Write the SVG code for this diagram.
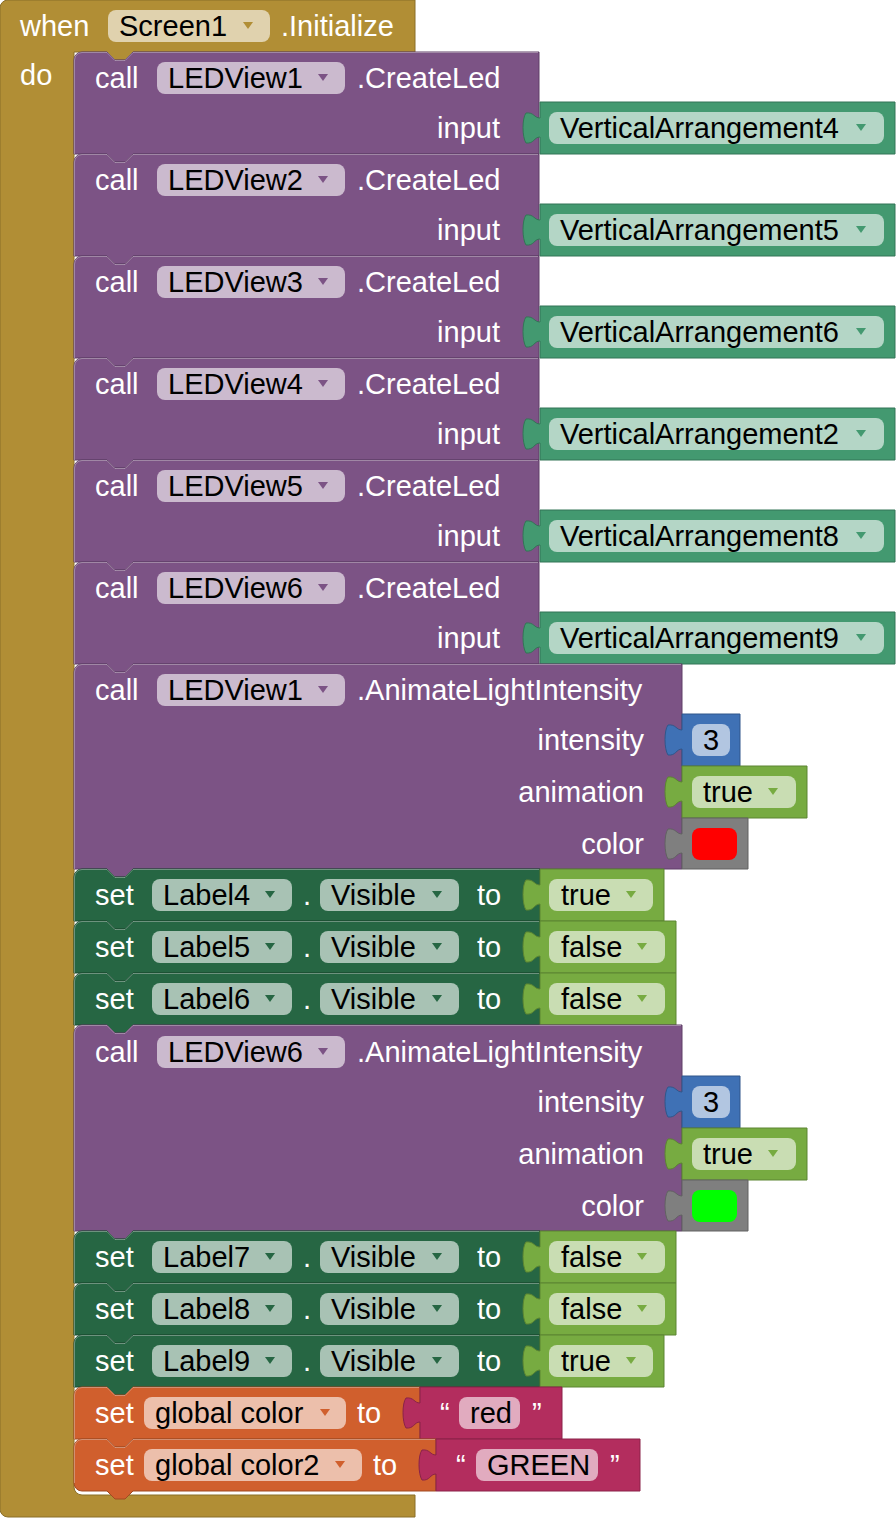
<svg xmlns="http://www.w3.org/2000/svg" xmlns:xlink="http://www.w3.org/1999/xlink" width="896" height="1518" viewBox="0 0 896 1518">
  <style>
    text { font-family: "Liberation Sans", Arial, sans-serif; font-size: 29px; }
    .w { fill: #ffffff; }
    .k { fill: #000000; }
    .end { text-anchor: end; }
    .mid { text-anchor: middle; }
    /* block bodies */
    .ev { fill: #b18e35; stroke: #8a6e29; stroke-width: 1; }
    .mt { fill: #7c5385; stroke: #5f3f66; stroke-width: 1; }
    .va { fill: #439970; stroke: #337556; stroke-width: 1; }
    .st { fill: #266643; stroke: #1b4a31; stroke-width: 1; }
    .lg { fill: #77ab41; stroke: #5c8532; stroke-width: 1; }
    .mb { fill: #3f71b5; stroke: #30578b; stroke-width: 1; }
    .cl { fill: #7f7f7f; stroke: #626262; stroke-width: 1; }
    .vr { fill: #d05f2d; stroke: #a14a23; stroke-width: 1; }
    .tx { fill: #b32d5e; stroke: #8a2348; stroke-width: 1; }
    .hl { fill: none; stroke: rgba(255,255,255,0.35); stroke-width: 1; }
    /* dropdown / editable fields */
    .f-ev { fill: #e0d2ae; }
    .f-mt { fill: #cbbace; }
    .f-va { fill: #b4d6c6; }
    .f-st { fill: #a8c2b4; }
    .f-lg { fill: #c9ddb3; }
    .f-mb { fill: #b2c6e1; }
    .f-vr { fill: #ecbfab; }
    .f-tx { fill: #e1abbf; }
  </style>
  <defs>
    <path id="dd" d="M-5,-3 H5 L0,4 Z"/>
  </defs>

  <!-- event handler: when Screen1.Initialize -->
  <g id="when-screen1-initialize">
    <path class="ev" d="M0,8 A8,8 0 0 1 8,0 H415 V52 H133 L125,60 H115 L107,52 H74 V1487 A8,8 0 0 0 82,1495 H415 V1517 H8 A8,8 0 0 1 0,1509 Z"/>
    <text class="w" x="20" y="36">when</text>
    <rect class="f-ev" x="108" y="10" width="162" height="32" rx="8"/>
    <text class="k" x="119" y="36">Screen1</text>
    <use xlink:href="#dd" x="248" y="25" fill="#b18e35"/>
    <text class="w" x="281" y="36">.Initialize</text>
    <text class="w" x="20" y="85">do</text>
  </g>

  <!-- LEDView1.CreateLed -->
  <g id="createled-1">
    <path class="mt" d="M74,60 A8,8 0 0 1 82,52 H107 L115,60 H125 L133,52 H539 V154 H133 L125,162 H115 L107,154 H74 Z"/>
    <path class="hl" d="M74.5,154 V60 A7.5,7.5 0 0 1 82,52.5 H107 L115,60.5 H125 L133,52.5 H538"/>
    <text class="w" x="95" y="88">call</text>
    <rect class="f-mt" x="157" y="62" width="188" height="32" rx="8"/>
    <text class="k" x="168" y="88">LEDView1</text>
    <use xlink:href="#dd" x="323" y="77" fill="#7c5385"/>
    <text class="w" x="357" y="88">.CreateLed</text>
    <text class="w end" x="500" y="138">input</text>
  </g>
  <g id="va4">
    <path class="va" d="M540,102 H895 V154 H540 V137 C534,137 534,144 526,143 C522,137 522,118 526,113 C534,112 534,118 540,118 Z"/>
    <rect class="f-va" x="549" y="112" width="335" height="32" rx="8"/>
    <text class="k" x="560" y="138">VerticalArrangement4</text>
    <use xlink:href="#dd" x="861" y="127" fill="#439970"/>
  </g>

  <!-- LEDView2.CreateLed -->
  <g id="createled-2">
    <path class="mt" d="M74,162 A8,8 0 0 1 82,154 H107 L115,162 H125 L133,154 H539 V256 H133 L125,264 H115 L107,256 H74 Z"/>
    <path class="hl" d="M74.5,256 V162 A7.5,7.5 0 0 1 82,154.5 H107 L115,162.5 H125 L133,154.5 H538"/>
    <text class="w" x="95" y="190">call</text>
    <rect class="f-mt" x="157" y="164" width="188" height="32" rx="8"/>
    <text class="k" x="168" y="190">LEDView2</text>
    <use xlink:href="#dd" x="323" y="179" fill="#7c5385"/>
    <text class="w" x="357" y="190">.CreateLed</text>
    <text class="w end" x="500" y="240">input</text>
  </g>
  <g id="va5">
    <path class="va" d="M540,204 H895 V256 H540 V239 C534,239 534,246 526,245 C522,239 522,220 526,215 C534,214 534,220 540,220 Z"/>
    <rect class="f-va" x="549" y="214" width="335" height="32" rx="8"/>
    <text class="k" x="560" y="240">VerticalArrangement5</text>
    <use xlink:href="#dd" x="861" y="229" fill="#439970"/>
  </g>

  <!-- LEDView3.CreateLed -->
  <g id="createled-3">
    <path class="mt" d="M74,264 A8,8 0 0 1 82,256 H107 L115,264 H125 L133,256 H539 V358 H133 L125,366 H115 L107,358 H74 Z"/>
    <path class="hl" d="M74.5,358 V264 A7.5,7.5 0 0 1 82,256.5 H107 L115,264.5 H125 L133,256.5 H538"/>
    <text class="w" x="95" y="292">call</text>
    <rect class="f-mt" x="157" y="266" width="188" height="32" rx="8"/>
    <text class="k" x="168" y="292">LEDView3</text>
    <use xlink:href="#dd" x="323" y="281" fill="#7c5385"/>
    <text class="w" x="357" y="292">.CreateLed</text>
    <text class="w end" x="500" y="342">input</text>
  </g>
  <g id="va6">
    <path class="va" d="M540,306 H895 V358 H540 V341 C534,341 534,348 526,347 C522,341 522,322 526,317 C534,316 534,322 540,322 Z"/>
    <rect class="f-va" x="549" y="316" width="335" height="32" rx="8"/>
    <text class="k" x="560" y="342">VerticalArrangement6</text>
    <use xlink:href="#dd" x="861" y="331" fill="#439970"/>
  </g>

  <!-- LEDView4.CreateLed -->
  <g id="createled-4">
    <path class="mt" d="M74,366 A8,8 0 0 1 82,358 H107 L115,366 H125 L133,358 H539 V460 H133 L125,468 H115 L107,460 H74 Z"/>
    <path class="hl" d="M74.5,460 V366 A7.5,7.5 0 0 1 82,358.5 H107 L115,366.5 H125 L133,358.5 H538"/>
    <text class="w" x="95" y="394">call</text>
    <rect class="f-mt" x="157" y="368" width="188" height="32" rx="8"/>
    <text class="k" x="168" y="394">LEDView4</text>
    <use xlink:href="#dd" x="323" y="383" fill="#7c5385"/>
    <text class="w" x="357" y="394">.CreateLed</text>
    <text class="w end" x="500" y="444">input</text>
  </g>
  <g id="va2">
    <path class="va" d="M540,408 H895 V460 H540 V443 C534,443 534,450 526,449 C522,443 522,424 526,419 C534,418 534,424 540,424 Z"/>
    <rect class="f-va" x="549" y="418" width="335" height="32" rx="8"/>
    <text class="k" x="560" y="444">VerticalArrangement2</text>
    <use xlink:href="#dd" x="861" y="433" fill="#439970"/>
  </g>

  <!-- LEDView5.CreateLed -->
  <g id="createled-5">
    <path class="mt" d="M74,468 A8,8 0 0 1 82,460 H107 L115,468 H125 L133,460 H539 V562 H133 L125,570 H115 L107,562 H74 Z"/>
    <path class="hl" d="M74.5,562 V468 A7.5,7.5 0 0 1 82,460.5 H107 L115,468.5 H125 L133,460.5 H538"/>
    <text class="w" x="95" y="496">call</text>
    <rect class="f-mt" x="157" y="470" width="188" height="32" rx="8"/>
    <text class="k" x="168" y="496">LEDView5</text>
    <use xlink:href="#dd" x="323" y="485" fill="#7c5385"/>
    <text class="w" x="357" y="496">.CreateLed</text>
    <text class="w end" x="500" y="546">input</text>
  </g>
  <g id="va8">
    <path class="va" d="M540,510 H895 V562 H540 V545 C534,545 534,552 526,551 C522,545 522,526 526,521 C534,520 534,526 540,526 Z"/>
    <rect class="f-va" x="549" y="520" width="335" height="32" rx="8"/>
    <text class="k" x="560" y="546">VerticalArrangement8</text>
    <use xlink:href="#dd" x="861" y="535" fill="#439970"/>
  </g>

  <!-- LEDView6.CreateLed -->
  <g id="createled-6">
    <path class="mt" d="M74,570 A8,8 0 0 1 82,562 H107 L115,570 H125 L133,562 H539 V664 H133 L125,672 H115 L107,664 H74 Z"/>
    <path class="hl" d="M74.5,664 V570 A7.5,7.5 0 0 1 82,562.5 H107 L115,570.5 H125 L133,562.5 H538"/>
    <text class="w" x="95" y="598">call</text>
    <rect class="f-mt" x="157" y="572" width="188" height="32" rx="8"/>
    <text class="k" x="168" y="598">LEDView6</text>
    <use xlink:href="#dd" x="323" y="587" fill="#7c5385"/>
    <text class="w" x="357" y="598">.CreateLed</text>
    <text class="w end" x="500" y="648">input</text>
  </g>
  <g id="va9">
    <path class="va" d="M540,612 H895 V664 H540 V647 C534,647 534,654 526,653 C522,647 522,628 526,623 C534,622 534,628 540,628 Z"/>
    <rect class="f-va" x="549" y="622" width="335" height="32" rx="8"/>
    <text class="k" x="560" y="648">VerticalArrangement9</text>
    <use xlink:href="#dd" x="861" y="637" fill="#439970"/>
  </g>

  <!-- LEDView1.AnimateLightIntensity -->
  <g id="animate-1">
    <path class="mt" d="M74,672 A8,8 0 0 1 82,664 H107 L115,672 H125 L133,664 H682 V869 H133 L125,877 H115 L107,869 H74 Z"/>
    <path class="hl" d="M74.5,869 V672 A7.5,7.5 0 0 1 82,664.5 H107 L115,672.5 H125 L133,664.5 H681"/>
    <text class="w" x="95" y="700">call</text>
    <rect class="f-mt" x="157" y="674" width="188" height="32" rx="8"/>
    <text class="k" x="168" y="700">LEDView1</text>
    <use xlink:href="#dd" x="323" y="689" fill="#7c5385"/>
    <text class="w" x="357" y="700">.AnimateLightIntensity</text>
    <text class="w end" x="644" y="750">intensity</text>
    <text class="w end" x="644" y="802">animation</text>
    <text class="w end" x="644" y="854">color</text>
  </g>
  <g id="num-3-a">
    <path class="mb" d="M682,714 H740 V766 H682 V749 C676,749 676,756 668,755 C664,749 664,730 668,725 C676,724 676,730 682,730 Z"/>
    <rect class="f-mb" x="692" y="724" width="38" height="32" rx="8"/>
    <text class="k mid" x="711" y="750">3</text>
  </g>
  <g id="true-a">
    <path class="lg" d="M682,766 H807 V818 H682 V801 C676,801 676,808 668,807 C664,801 664,782 668,777 C676,776 676,782 682,782 Z"/>
    <rect class="f-lg" x="692" y="776" width="104" height="32" rx="8"/>
    <text class="k" x="703" y="802">true</text>
    <use xlink:href="#dd" x="773" y="791" fill="#77ab41"/>
  </g>
  <g id="color-red">
    <path class="cl" d="M682,818 H748 V869 H682 V853 C676,853 676,860 668,859 C664,853 664,834 668,829 C676,828 676,834 682,834 Z"/>
    <rect x="692" y="828" width="45" height="32" rx="8" fill="#ff0000"/>
  </g>

  <!-- set Label4.Visible to true -->
  <g id="set-label4">
    <path class="st" d="M74,877 A8,8 0 0 1 82,869 H107 L115,877 H125 L133,869 H540 V921 H133 L125,929 H115 L107,921 H74 Z"/>
    <path class="hl" d="M74.5,921 V877 A7.5,7.5 0 0 1 82,869.5 H107 L115,877.5 H125 L133,869.5 H539"/>
    <text class="w" x="95" y="905">set</text>
    <rect class="f-st" x="152" y="879" width="140" height="32" rx="8"/>
    <text class="k" x="163" y="905">Label4</text>
    <use xlink:href="#dd" x="270" y="894" fill="#266643"/>
    <text class="w" x="303" y="905">.</text>
    <rect class="f-st" x="320" y="879" width="139" height="32" rx="8"/>
    <text class="k" x="331" y="905">Visible</text>
    <use xlink:href="#dd" x="437" y="894" fill="#266643"/>
    <text class="w" x="477" y="905">to</text>
  </g>
  <g id="true-4">
    <path class="lg" d="M540,869 H664 V921 H540 V904 C534,904 534,911 526,910 C522,904 522,885 526,880 C534,879 534,885 540,885 Z"/>
    <rect class="f-lg" x="549" y="879" width="104" height="32" rx="8"/>
    <text class="k" x="561" y="905">true</text>
    <use xlink:href="#dd" x="631" y="894" fill="#77ab41"/>
  </g>

  <!-- set Label5.Visible to false -->
  <g id="set-label5">
    <path class="st" d="M74,929 A8,8 0 0 1 82,921 H107 L115,929 H125 L133,921 H540 V973 H133 L125,981 H115 L107,973 H74 Z"/>
    <path class="hl" d="M74.5,973 V929 A7.5,7.5 0 0 1 82,921.5 H107 L115,929.5 H125 L133,921.5 H539"/>
    <text class="w" x="95" y="957">set</text>
    <rect class="f-st" x="152" y="931" width="140" height="32" rx="8"/>
    <text class="k" x="163" y="957">Label5</text>
    <use xlink:href="#dd" x="270" y="946" fill="#266643"/>
    <text class="w" x="303" y="957">.</text>
    <rect class="f-st" x="320" y="931" width="139" height="32" rx="8"/>
    <text class="k" x="331" y="957">Visible</text>
    <use xlink:href="#dd" x="437" y="946" fill="#266643"/>
    <text class="w" x="477" y="957">to</text>
  </g>
  <g id="false-5">
    <path class="lg" d="M540,921 H676 V973 H540 V956 C534,956 534,963 526,962 C522,956 522,937 526,932 C534,931 534,937 540,937 Z"/>
    <rect class="f-lg" x="549" y="931" width="116" height="32" rx="8"/>
    <text class="k" x="561" y="957">false</text>
    <use xlink:href="#dd" x="642" y="946" fill="#77ab41"/>
  </g>

  <!-- set Label6.Visible to false -->
  <g id="set-label6">
    <path class="st" d="M74,981 A8,8 0 0 1 82,973 H107 L115,981 H125 L133,973 H540 V1025 H133 L125,1033 H115 L107,1025 H74 Z"/>
    <path class="hl" d="M74.5,1025 V981 A7.5,7.5 0 0 1 82,973.5 H107 L115,981.5 H125 L133,973.5 H539"/>
    <text class="w" x="95" y="1009">set</text>
    <rect class="f-st" x="152" y="983" width="140" height="32" rx="8"/>
    <text class="k" x="163" y="1009">Label6</text>
    <use xlink:href="#dd" x="270" y="998" fill="#266643"/>
    <text class="w" x="303" y="1009">.</text>
    <rect class="f-st" x="320" y="983" width="139" height="32" rx="8"/>
    <text class="k" x="331" y="1009">Visible</text>
    <use xlink:href="#dd" x="437" y="998" fill="#266643"/>
    <text class="w" x="477" y="1009">to</text>
  </g>
  <g id="false-6">
    <path class="lg" d="M540,973 H676 V1025 H540 V1008 C534,1008 534,1015 526,1014 C522,1008 522,989 526,984 C534,983 534,989 540,989 Z"/>
    <rect class="f-lg" x="549" y="983" width="116" height="32" rx="8"/>
    <text class="k" x="561" y="1009">false</text>
    <use xlink:href="#dd" x="642" y="998" fill="#77ab41"/>
  </g>

  <!-- LEDView6.AnimateLightIntensity -->
  <g id="animate-2">
    <path class="mt" d="M74,1033 A8,8 0 0 1 82,1025 H107 L115,1033 H125 L133,1025 H682 V1231 H133 L125,1239 H115 L107,1231 H74 Z"/>
    <path class="hl" d="M74.5,1231 V1033 A7.5,7.5 0 0 1 82,1025.5 H107 L115,1033.5 H125 L133,1025.5 H681"/>
    <text class="w" x="95" y="1062">call</text>
    <rect class="f-mt" x="157" y="1036" width="188" height="32" rx="8"/>
    <text class="k" x="168" y="1062">LEDView6</text>
    <use xlink:href="#dd" x="323" y="1051" fill="#7c5385"/>
    <text class="w" x="357" y="1062">.AnimateLightIntensity</text>
    <text class="w end" x="644" y="1112">intensity</text>
    <text class="w end" x="644" y="1164">animation</text>
    <text class="w end" x="644" y="1216">color</text>
  </g>
  <g id="num-3-b">
    <path class="mb" d="M682,1076 H740 V1128 H682 V1111 C676,1111 676,1118 668,1117 C664,1111 664,1092 668,1087 C676,1086 676,1092 682,1092 Z"/>
    <rect class="f-mb" x="692" y="1086" width="38" height="32" rx="8"/>
    <text class="k mid" x="711" y="1112">3</text>
  </g>
  <g id="true-b">
    <path class="lg" d="M682,1128 H807 V1180 H682 V1163 C676,1163 676,1170 668,1169 C664,1163 664,1144 668,1139 C676,1138 676,1144 682,1144 Z"/>
    <rect class="f-lg" x="692" y="1138" width="104" height="32" rx="8"/>
    <text class="k" x="703" y="1164">true</text>
    <use xlink:href="#dd" x="773" y="1153" fill="#77ab41"/>
  </g>
  <g id="color-green">
    <path class="cl" d="M682,1180 H748 V1231 H682 V1215 C676,1215 676,1222 668,1221 C664,1215 664,1196 668,1191 C676,1190 676,1196 682,1196 Z"/>
    <rect x="692" y="1190" width="45" height="32" rx="8" fill="#00ff00"/>
  </g>

  <!-- set Label7.Visible to false -->
  <g id="set-label7">
    <path class="st" d="M74,1239 A8,8 0 0 1 82,1231 H107 L115,1239 H125 L133,1231 H540 V1283 H133 L125,1291 H115 L107,1283 H74 Z"/>
    <path class="hl" d="M74.5,1283 V1239 A7.5,7.5 0 0 1 82,1231.5 H107 L115,1239.5 H125 L133,1231.5 H539"/>
    <text class="w" x="95" y="1267">set</text>
    <rect class="f-st" x="152" y="1241" width="140" height="32" rx="8"/>
    <text class="k" x="163" y="1267">Label7</text>
    <use xlink:href="#dd" x="270" y="1256" fill="#266643"/>
    <text class="w" x="303" y="1267">.</text>
    <rect class="f-st" x="320" y="1241" width="139" height="32" rx="8"/>
    <text class="k" x="331" y="1267">Visible</text>
    <use xlink:href="#dd" x="437" y="1256" fill="#266643"/>
    <text class="w" x="477" y="1267">to</text>
  </g>
  <g id="false-7">
    <path class="lg" d="M540,1231 H676 V1283 H540 V1266 C534,1266 534,1273 526,1272 C522,1266 522,1247 526,1242 C534,1241 534,1247 540,1247 Z"/>
    <rect class="f-lg" x="549" y="1241" width="116" height="32" rx="8"/>
    <text class="k" x="561" y="1267">false</text>
    <use xlink:href="#dd" x="642" y="1256" fill="#77ab41"/>
  </g>

  <!-- set Label8.Visible to false -->
  <g id="set-label8">
    <path class="st" d="M74,1291 A8,8 0 0 1 82,1283 H107 L115,1291 H125 L133,1283 H540 V1335 H133 L125,1343 H115 L107,1335 H74 Z"/>
    <path class="hl" d="M74.5,1335 V1291 A7.5,7.5 0 0 1 82,1283.5 H107 L115,1291.5 H125 L133,1283.5 H539"/>
    <text class="w" x="95" y="1319">set</text>
    <rect class="f-st" x="152" y="1293" width="140" height="32" rx="8"/>
    <text class="k" x="163" y="1319">Label8</text>
    <use xlink:href="#dd" x="270" y="1308" fill="#266643"/>
    <text class="w" x="303" y="1319">.</text>
    <rect class="f-st" x="320" y="1293" width="139" height="32" rx="8"/>
    <text class="k" x="331" y="1319">Visible</text>
    <use xlink:href="#dd" x="437" y="1308" fill="#266643"/>
    <text class="w" x="477" y="1319">to</text>
  </g>
  <g id="false-8">
    <path class="lg" d="M540,1283 H676 V1335 H540 V1318 C534,1318 534,1325 526,1324 C522,1318 522,1299 526,1294 C534,1293 534,1299 540,1299 Z"/>
    <rect class="f-lg" x="549" y="1293" width="116" height="32" rx="8"/>
    <text class="k" x="561" y="1319">false</text>
    <use xlink:href="#dd" x="642" y="1308" fill="#77ab41"/>
  </g>

  <!-- set Label9.Visible to true -->
  <g id="set-label9">
    <path class="st" d="M74,1343 A8,8 0 0 1 82,1335 H107 L115,1343 H125 L133,1335 H540 V1387 H133 L125,1395 H115 L107,1387 H74 Z"/>
    <path class="hl" d="M74.5,1387 V1343 A7.5,7.5 0 0 1 82,1335.5 H107 L115,1343.5 H125 L133,1335.5 H539"/>
    <text class="w" x="95" y="1371">set</text>
    <rect class="f-st" x="152" y="1345" width="140" height="32" rx="8"/>
    <text class="k" x="163" y="1371">Label9</text>
    <use xlink:href="#dd" x="270" y="1360" fill="#266643"/>
    <text class="w" x="303" y="1371">.</text>
    <rect class="f-st" x="320" y="1345" width="139" height="32" rx="8"/>
    <text class="k" x="331" y="1371">Visible</text>
    <use xlink:href="#dd" x="437" y="1360" fill="#266643"/>
    <text class="w" x="477" y="1371">to</text>
  </g>
  <g id="true-9">
    <path class="lg" d="M540,1335 H664 V1387 H540 V1370 C534,1370 534,1377 526,1376 C522,1370 522,1351 526,1346 C534,1345 534,1351 540,1351 Z"/>
    <rect class="f-lg" x="549" y="1345" width="104" height="32" rx="8"/>
    <text class="k" x="561" y="1371">true</text>
    <use xlink:href="#dd" x="631" y="1360" fill="#77ab41"/>
  </g>

  <!-- set global color to "red" -->
  <g id="set-global-color">
    <path class="vr" d="M74,1395 A8,8 0 0 1 82,1387 H107 L115,1395 H125 L133,1387 H420 V1439 H133 L125,1447 H115 L107,1439 H74 Z"/>
    <path class="hl" d="M74.5,1439 V1395 A7.5,7.5 0 0 1 82,1387.5 H107 L115,1395.5 H125 L133,1387.5 H419"/>
    <text class="w" x="95" y="1423">set</text>
    <rect class="f-vr" x="144" y="1397" width="202" height="32" rx="8"/>
    <text class="k" x="155" y="1423">global color</text>
    <use xlink:href="#dd" x="325" y="1412" fill="#d05f2d"/>
    <text class="w" x="357" y="1423">to</text>
  </g>
  <g id="text-red">
    <path class="tx" d="M420,1387 H562 V1439 H420 V1422 C414,1422 414,1429 406,1428 C402,1422 402,1403 406,1398 C414,1397 414,1403 420,1403 Z"/>
    <text class="w" x="440" y="1423">“</text>
    <rect class="f-tx" x="459" y="1397" width="61" height="32" rx="8"/>
    <text class="k" x="470" y="1423">red</text>
    <text class="w" x="532" y="1423">”</text>
  </g>

  <!-- set global color2 to "GREEN" -->
  <g id="set-global-color2">
    <path class="vr" d="M74,1447 A8,8 0 0 1 82,1439 H107 L115,1447 H125 L133,1439 H436 V1491 H133 L125,1499 H115 L107,1491 H82 A8,8 0 0 1 74,1483 Z"/>
    <path class="hl" d="M74.5,1483 V1447 A7.5,7.5 0 0 1 82,1439.5 H107 L115,1447.5 H125 L133,1439.5 H435"/>
    <text class="w" x="95" y="1475">set</text>
    <rect class="f-vr" x="144" y="1449" width="218" height="32" rx="8"/>
    <text class="k" x="155" y="1475">global color2</text>
    <use xlink:href="#dd" x="340" y="1464" fill="#d05f2d"/>
    <text class="w" x="373" y="1475">to</text>
  </g>
  <g id="text-green">
    <path class="tx" d="M436,1439 H640 V1491 H436 V1474 C430,1474 430,1481 422,1480 C418,1474 418,1455 422,1450 C430,1449 430,1455 436,1455 Z"/>
    <text class="w" x="456" y="1475">“</text>
    <rect class="f-tx" x="476" y="1449" width="122" height="32" rx="8"/>
    <text class="k" x="487" y="1475">GREEN</text>
    <text class="w" x="610" y="1475">”</text>
  </g>
</svg>
